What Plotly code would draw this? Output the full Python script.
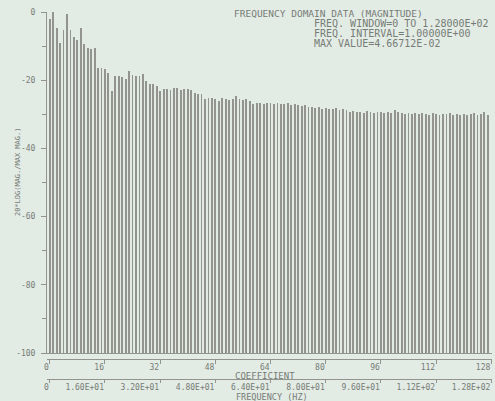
import plotly.graph_objects as go

# 20*LOG(MAG./MAX MAG.) for coefficients 0..127
coefficients = list(range(128))
magnitude_db = [
    -2.0, 0.0, -4.7, -9.0, -5.2, -0.6, -5.2, -7.3, -8.2, -4.7,
    -9.3, -10.5, -10.8, -10.5, -16.3, -16.3, -16.6, -17.8, -23.3, -18.7,
    -18.7, -19.2, -19.7, -17.4, -18.4, -18.9, -18.7, -18.1, -20.3, -21.0,
    -21.1, -21.6, -23.2, -22.7, -22.7, -22.9, -22.3, -22.3, -22.9, -22.7,
    -22.7, -22.9, -23.7, -23.9, -23.9, -25.5, -25.2, -25.2, -25.6, -26.2,
    -25.3, -25.4, -25.8, -25.5, -24.6, -25.4, -25.7, -25.6, -26.0, -27.0,
    -26.8, -26.7, -26.9, -26.6, -26.8, -27.0, -26.7, -26.9, -27.1, -26.6,
    -27.2, -27.0, -27.4, -27.6, -27.3, -28.0, -27.9, -28.2, -28.0, -28.3,
    -28.1, -28.5, -28.3, -28.1, -28.6, -28.4, -28.7, -29.3, -29.0, -29.4,
    -29.2, -29.5, -29.1, -29.3, -29.6, -29.2, -29.4, -29.5, -29.3, -29.6,
    -28.6, -29.4, -29.7, -29.8, -29.5, -29.9, -29.7, -30.0, -29.6, -29.8,
    -30.1, -29.7, -29.9, -30.2, -29.8, -30.0, -29.6, -30.1, -29.8, -30.3,
    -29.9, -30.2, -30.0, -29.6, -30.3, -29.9, -29.4, -30.1]

db_floor = -100

coef_tick_vals = [0, 16, 32, 48, 64, 80, 96, 112, 128]
coef_tick_text = ['0', '16', '32', '48', '64', '80', '96', '112', '128']
freq_tick_text = ['0', '1.60E+01', '3.20E+01', '4.80E+01', '6.40E+01',
                  '8.00E+01', '9.60E+01', '1.12E+02', '1.28E+02']
db_tick_vals = [0, -20, -40, -60, -80, -100]
db_tick_text = ['0', '-20', '-40', '-60', '-80', '-100']

info_lines = ['FREQUENCY DOMAIN DATA (MAGNITUDE)',
              'FREQ. WINDOW=0 TO 1.28000E+02',
              'FREQ. INTERVAL=1.00000E+00',
              'MAX VALUE=4.66712E-02']

paper = '#e3ebe5'
ink = 'rgb(118,124,118)'
pen = 'rgb(146,148,141)'
mono = 'DejaVu Sans Mono'
x_range = [-0.8, 128.2]

fig = go.Figure()

fig.add_trace(go.Bar(x = coefficients,
                     y = [v - db_floor for v in magnitude_db],
                     base = db_floor,
                     width = 0.25,
                     marker = {'color': pen, 'line': {'width': 0}},
                     hoverinfo = 'skip',
                     showlegend = False))

# empty traces so the two lower axes get drawn
for ax in ['x2', 'x3']:
    fig.add_trace(go.Scatter(x = [coef_tick_vals[0], coef_tick_vals[-1]],
                             y = [db_floor, db_floor],
                             xaxis = ax,
                             mode = 'none',
                             hoverinfo = 'skip',
                             showlegend = False))

axis_common = {'range': x_range,
               'showgrid': False,
               'zeroline': False,
               'showline': True,
               'linecolor': pen,
               'linewidth': 1,
               'fixedrange': True}

fig.update_layout(width = 495,
                  height = 401,
                  paper_bgcolor = paper,
                  plot_bgcolor = paper,
                  margin = {'l': 47, 'r': 3, 't': 12, 'b': 22},
                  font = {'family': mono, 'color': ink, 'size': 8},
                  bargap = 0,
                  xaxis = dict(axis_common,
                               showticklabels = False,
                               ticks = ''),
                  xaxis2 = dict(axis_common,
                                overlaying = 'x',
                                anchor = 'free',
                                position = 0.0545,
                                side = 'bottom',
                                tickvals = coef_tick_vals,
                                ticktext = coef_tick_text,
                                ticks = 'outside',
                                ticklen = 4,
                                tickcolor = pen,
                                ticklabelposition = 'outside left',
                                tickfont = {'size': 8}),
                  xaxis3 = dict(axis_common,
                                overlaying = 'x',
                                anchor = 'free',
                                position = 0,
                                side = 'bottom',
                                tickvals = coef_tick_vals,
                                ticktext = freq_tick_text,
                                ticks = 'outside',
                                ticklen = 3,
                                tickcolor = pen,
                                ticklabelposition = 'outside left',
                                tickfont = {'size': 8}),
                  yaxis = {'domain': [0.0708, 1],
                           'range': [db_floor, 0],
                           'tickvals': db_tick_vals,
                           'ticktext': db_tick_text,
                           'ticks': 'outside',
                           'ticklen': 5,
                           'tickcolor': pen,
                           'ticklabelstandoff': 4,
                           'minor': {'dtick': 10, 'ticks': 'outside',
                                     'ticklen': 4, 'tickcolor': pen},
                           'showline': True,
                           'linecolor': pen,
                           'showgrid': False,
                           'zeroline': False,
                           'fixedrange': True,
                           'tickfont': {'size': 8}})

# text block, top right
fig.add_annotation(text = info_lines[0], xref = 'paper', yref = 'paper',
                   x = 0.415, y = 0.995, xanchor = 'left', yanchor = 'middle',
                   showarrow = False, font = {'size': 9.5})
for i, line in enumerate(info_lines[1:]):
    fig.add_annotation(text = line, xref = 'paper', yref = 'paper',
                       x = 0.596, y = 0.968 - 0.0275 * i,
                       xanchor = 'left', yanchor = 'middle',
                       showarrow = False, font = {'size': 10})

# axis titles
fig.add_annotation(text = '20*LOG(MAG./MAX MAG.)', xref = 'paper', yref = 'paper',
                   x = -0.065, y = 0.564, textangle = -90,
                   xanchor = 'center', yanchor = 'middle',
                   showarrow = False, font = {'size': 7})
fig.add_annotation(text = 'COEFFICIENT', xref = 'paper', yref = 'paper',
                   x = 0.49, y = 0.008, xanchor = 'center', yanchor = 'middle',
                   showarrow = False, font = {'size': 9})
fig.add_annotation(text = 'FREQUENCY (HZ)', xref = 'paper', yref = 'paper',
                   x = 0.506, y = -0.049, xanchor = 'center', yanchor = 'middle',
                   showarrow = False, font = {'size': 8.5})

# the page body has an 8px margin by default; drop it so the figure fills the window
fig.write_html('out.html',
               config = {'displayModeBar': False},
               post_script = "document.body.style.margin = '0';")
